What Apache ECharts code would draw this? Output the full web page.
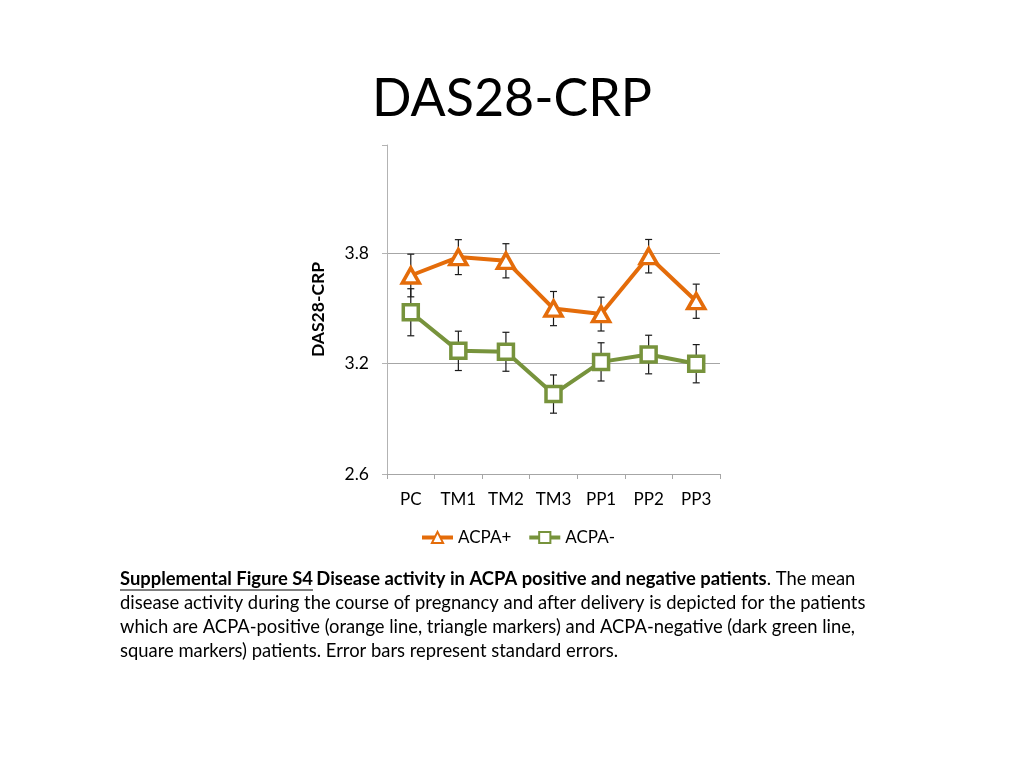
<!DOCTYPE html>
<html>
<head>
<meta charset="utf-8">
<script src="https://cdn.jsdelivr.net/npm/echarts@6/dist/echarts.min.js"></script>
<style>
html,body{margin:0;padding:0;background:#fff;}
#chart{width:1024px;height:768px;}
</style>
</head>
<body>
<div id="chart"></div>
<script>
var categories = ['PC', 'TM1', 'TM2', 'TM3', 'PP1', 'PP2', 'PP3'];
var acpaPos = [3.68, 3.78, 3.76, 3.50, 3.47, 3.785, 3.54];
var acpaPosSE = [0.116, 0.095, 0.093, 0.093, 0.092, 0.091, 0.093];
var acpaNeg = [3.48, 3.27, 3.265, 3.035, 3.21, 3.25, 3.20];
var acpaNegSE = [0.128, 0.107, 0.106, 0.104, 0.104, 0.105, 0.104];
var yTicks = [2.6, 3.2, 3.8];

var FONT = 'Lato';
var ORANGE = '#E46C0A';
var GREEN = '#77933C';
var CAP = 18.4;

function errData(vals, se) {
  return vals.map(function (v, i) { return [i, v - se[i], v + se[i]]; });
}
function errRender(params, api) {
  var x = api.value(0);
  var lo = api.coord([x, api.value(1)]);
  var hi = api.coord([x, api.value(2)]);
  var w = 3.5;
  var st = { stroke: '#1a1a1a', lineWidth: 1.2 };
  return {
    type: 'group',
    children: [
      { type: 'line', shape: { x1: lo[0], y1: lo[1], x2: hi[0], y2: hi[1] }, style: st },
      { type: 'line', shape: { x1: lo[0] - w, y1: lo[1], x2: lo[0] + w, y2: lo[1] }, style: st },
      { type: 'line', shape: { x1: hi[0] - w, y1: hi[1], x2: hi[0] + w, y2: hi[1] }, style: st }
    ]
  };
}

// measure underline width for caption lead
var cv = document.createElement('canvas').getContext('2d');
cv.font = 'bold ' + CAP + 'px ' + FONT;
var ulWidth = cv.measureText('Supplemental Figure S4').width;

var chart = echarts.init(document.getElementById('chart'), null, { renderer: 'canvas' });
chart.setOption({
  backgroundColor: '#ffffff',
  animation: false,
  title: {
    text: 'DAS28-CRP',
    left: 'center',
    top: 68,
    textStyle: { fontFamily: FONT, fontSize: 52, fontWeight: 'normal', color: '#000' }
  },
  grid: { left: 387, right: 304, top: 145, bottom: 294 },
  legend: {
    data: ['ACPA+', 'ACPA-'],
    left: 415,
    top: 524,
    itemWidth: 31,
    itemHeight: 14,
    itemGap: 16,
    lineStyle: { width: 4 },
    textStyle: { fontFamily: FONT, fontSize: 17, color: '#000' }
  },
  xAxis: {
    type: 'category',
    data: categories,
    boundaryGap: true,
    axisLine: { lineStyle: { color: '#a6a6a6', width: 1 } },
    axisTick: { show: true, length: 5, alignWithLabel: false, lineStyle: { color: '#a6a6a6' } },
    axisLabel: { fontFamily: FONT, fontSize: 17, color: '#000', margin: 17 }
  },
  yAxis: {
    type: 'value',
    min: 2.6,
    max: 4.39,
    interval: 0.6,
    name: 'DAS28-CRP',
    nameLocation: 'middle',
    nameGap: 60,
    nameRotate: 90,
    nameTextStyle: { fontFamily: FONT, fontSize: 17.5, fontWeight: 'bold', color: '#000' },
    axisLine: { show: true, lineStyle: { color: '#b3b3b3', width: 1 } },
    axisTick: { show: true, length: 5, lineStyle: { color: '#b3b3b3' } },
    axisLabel: {
      fontFamily: FONT, fontSize: 17.5, color: '#000', margin: 18,
      formatter: function (v) { return yTicks.indexOf(Math.round(v * 10) / 10) >= 0 ? v.toFixed(1) : ''; }
    },
    splitLine: { show: true, lineStyle: { color: ['#a6a6a6', '#a6a6a6', '#a6a6a6', 'rgba(0,0,0,0)'], width: 1 } }
  },
  series: [
    {
      name: 'errPos', type: 'custom', data: errData(acpaPos, acpaPosSE),
      renderItem: errRender, z: 1, silent: true,
      encode: { x: 0, y: [1, 2] }
    },
    {
      name: 'errNeg', type: 'custom', data: errData(acpaNeg, acpaNegSE),
      renderItem: errRender, z: 1, silent: true,
      encode: { x: 0, y: [1, 2] }
    },
    {
      name: 'ACPA+', type: 'line', data: acpaPos, z: 3,
      symbol: 'triangle', symbolSize: [17, 15],
      lineStyle: { color: ORANGE, width: 4 },
      itemStyle: { color: '#fff', borderColor: ORANGE, borderWidth: 3.5 }
    },
    {
      name: 'ACPA-', type: 'line', data: acpaNeg, z: 3,
      symbol: 'rect', symbolSize: 15,
      lineStyle: { color: GREEN, width: 4 },
      itemStyle: { color: '#fff', borderColor: GREEN, borderWidth: 3.5 }
    }
  ],
  graphic: [
    {
      type: 'text',
      left: 120,
      top: 570,
      style: {
        text: '{b|Supplemental Figure S4} {b|Disease activity in ACPA positive and negative patients}{n|. The mean}\n' +
              '{n|disease activity during the course of pregnancy and after delivery is depicted for the patients}\n' +
              '{n|which are ACPA-positive (orange line, triangle markers) and ACPA-negative (dark green line,}\n' +
              '{n|square markers) patients. Error bars represent standard errors.}',
        rich: {
          b: { fontFamily: FONT, fontSize: CAP, fontWeight: 'bold', color: '#000', lineHeight: 24 },
          n: { fontFamily: FONT, fontSize: CAP, color: '#000', lineHeight: 24 }
        }
      }
    },
    {
      type: 'line',
      shape: { x1: 120, y1: 590, x2: 120 + ulWidth, y2: 590 },
      style: { stroke: '#000', lineWidth: 1.2 }
    }
  ]
});
</script>
</body>
</html>
